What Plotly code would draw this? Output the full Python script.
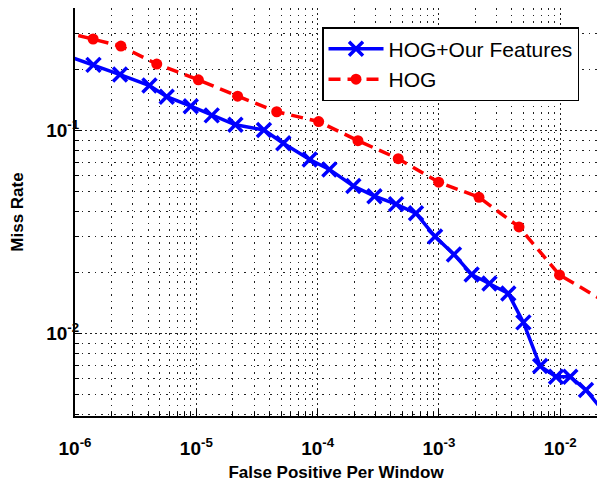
import plotly.graph_objects as go

# Data (log-log DET curves)
fppw_ours = [7.5e-7, 1.42e-6, 2.35e-6, 4.11e-6, 5.70e-6, 9.0e-6, 1.34e-5, 2.10e-5,
             3.61e-5, 5.21e-5, 8.6e-5, 1.25e-4, 1.97e-4, 2.94e-4, 4.43e-4, 6.47e-4,
             9.29e-4, 1.33e-3, 1.86e-3, 2.61e-3, 3.73e-3, 4.97e-3, 6.83e-3, 9.23e-3,
             1.21e-2, 1.63e-2, 2.39e-2]
miss_ours = [0.241, 0.211, 0.189, 0.167, 0.147, 0.132, 0.119, 0.107,
             0.1008, 0.0867, 0.0722, 0.0645, 0.0534, 0.0476, 0.0435, 0.0392,
             0.0301, 0.0246, 0.0196, 0.0177, 0.0158, 0.01138, 0.00693, 0.00614,
             0.00614, 0.00528, 0.0040]

fppw_hog = [7.5e-7, 1.41e-6, 2.39e-6, 4.72e-6, 1.04e-5, 2.19e-5, 4.60e-5, 1.02e-4,
            2.15e-4, 4.62e-4, 9.95e-4, 2.14e-3, 4.57e-3, 9.86e-3, 2.58e-2]
miss_hog = [0.310, 0.283, 0.261, 0.213, 0.178, 0.148, 0.124, 0.111,
            0.0893, 0.0728, 0.0558, 0.0470, 0.0336, 0.0195, 0.0139]

x_ticks = [1e-6, 1e-5, 1e-4, 1e-3, 1e-2]
x_tick_labels = ["<b>10<sup>-6</sup></b>", "<b>10<sup>-5</sup></b>", "<b>10<sup>-4</sup></b>",
                 "<b>10<sup>-3</sup></b>", "<b>10<sup>-2</sup></b>"]
y_ticks = [1e-2, 1e-1]
y_tick_labels = ["<b>10<sup>-2</sup></b>", "<b>10<sup>-1</sup></b>"]

x_minor = [m * 10.0 ** e for e in range(-6, -1) for m in range(2, 10)]
y_minor = [m * 10.0 ** e for e in range(-3, 0) for m in range(2, 10)]

fig = go.Figure()
fig.add_trace(go.Scatter(
    x=fppw_ours, y=miss_ours, name="HOG+Our Features",
    mode="lines+markers",
    line=dict(color="#0000ff", width=3.5),
    marker=dict(symbol="x-thin", size=14, color="#0000ff",
                line=dict(color="#0000ff", width=3.5)),
))
fig.add_trace(go.Scatter(
    x=fppw_hog, y=miss_hog, name="HOG",
    mode="lines+markers",
    line=dict(color="#ff0000", width=3.5, dash="12px,7px"),
    marker=dict(symbol="circle", size=11, color="#ff0000"),
))

grid_major = "2px,3px"
grid_minor = "1.5px,5px"

fig.update_xaxes(
    type="log", range=[-6, -1.697],
    tickmode="array", tickvals=x_ticks, ticktext=x_tick_labels,
    ticks="inside", ticklen=7, tickwidth=1, tickcolor="black",
    tickfont=dict(size=19, color="black"), ticklabelstandoff=14,
    showline=True, linecolor="black", linewidth=2, mirror=False,
    showgrid=True, gridcolor="#222", gridwidth=1, griddash=grid_major,
    zeroline=False,
    minor=dict(tickmode="array", tickvals=x_minor, ticks="inside", ticklen=4,
               tickcolor="black", showgrid=True, gridcolor="#222",
               gridwidth=1, griddash=grid_minor),
    title=dict(text="<b>False Positive Per Window</b>", font=dict(size=17, color="black"),
               standoff=10),
)
fig.update_yaxes(
    type="log", range=[-2.405, -0.3956],
    tickmode="array", tickvals=y_ticks, ticktext=y_tick_labels,
    ticks="inside", ticklen=7, tickwidth=1, tickcolor="black",
    tickfont=dict(size=19, color="black"), ticklabelstandoff=-10,
    showline=True, linecolor="black", linewidth=2, mirror=False,
    showgrid=True, gridcolor="#222", gridwidth=1, griddash=grid_major,
    zeroline=False,
    minor=dict(tickmode="array", tickvals=y_minor, ticks="inside", ticklen=4,
               tickcolor="black", showgrid=True, gridcolor="#222",
               gridwidth=1, griddash=grid_minor),
    title=dict(text="<b>Miss Rate</b>", font=dict(size=17, color="black"),
               standoff=18),
)

fig.update_layout(
    width=597, height=482,
    margin=dict(l=75, r=0, t=8, b=66, autoexpand=False),
    paper_bgcolor="white", plot_bgcolor="white",
    font=dict(family="Liberation Sans, Arial, sans-serif", color="black"),
    showlegend=True,
    legend=dict(
        x=0.4732, y=0.953, xanchor="left", yanchor="top",
        bgcolor="white", bordercolor="black", borderwidth=1.5,
        font=dict(size=21, color="black"),
        itemwidth=55, traceorder="normal",
    ),
)

fig.write_html(
    "out.html",
    config={"displayModeBar": False},
    post_script="document.body.style.margin='0';document.body.style.overflow='hidden';",
)
